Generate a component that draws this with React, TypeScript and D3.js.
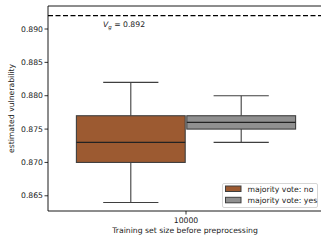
import React from "react";
import * as d3 from "d3";

const categories = ["10000"];
const hues = ["majority vote: no", "majority vote: yes"];
// [whiskerLow, q1, median, q3, whiskerHigh]
const boxStats = [
  [0.864, 0.870, 0.873, 0.877, 0.882],
  [0.873, 0.875, 0.876, 0.877, 0.880],
];
const colors = ["#9c5a31", "#909090"];
const yTicks = [0.865, 0.870, 0.875, 0.880, 0.885, 0.890];
const vg = 0.892;

export default function App() {
  const W = 321, H = 242;
  const left = 48, top = 6, right = 324, bottom = 211;
  const x = d3.scaleLinear().domain([-0.5, 0.5]).range([left, right]);
  const y = d3.scaleLinear().domain([0.86272, 0.89345]).range([bottom, top]);
  const fs = 7.7;
  const font = "DejaVu Sans, sans-serif";
  const edge = "#3f3f3f";
  const boxW = 0.4;
  return (
    <svg width={W} height={H} style={{ position: "absolute", left: 0, top: 0 }} fontFamily={font}>
      <rect x={0} y={0} width={W} height={H} fill="#fff" />
      {boxStats.map((s, i) => {
        const x0 = x(-0.4 + i * boxW);
        const x1 = x(-0.4 + (i + 1) * boxW);
        const inset = 0.8;
        const cx = (x0 + x1) / 2;
        const capHalf = (x1 - x0) / 4;
        return (
          <g key={i}>
            <line x1={cx} x2={cx} y1={y(s[0])} y2={y(s[1])} stroke={edge} strokeWidth={1.1} />
            <line x1={cx} x2={cx} y1={y(s[3])} y2={y(s[4])} stroke={edge} strokeWidth={1.1} />
            <line x1={cx - capHalf} x2={cx + capHalf} y1={y(s[0])} y2={y(s[0])} stroke={edge} strokeWidth={1.1} />
            <line x1={cx - capHalf} x2={cx + capHalf} y1={y(s[4])} y2={y(s[4])} stroke={edge} strokeWidth={1.1} />
            <rect x={x0 + inset} y={y(s[3])} width={x1 - x0 - 2 * inset} height={y(s[1]) - y(s[3])} fill={colors[i]} stroke={edge} strokeWidth={1.1} />
            <line x1={x0 + inset} x2={x1 - inset} y1={y(s[2])} y2={y(s[2])} stroke="#222" strokeWidth={1.1} />
          </g>
        );
      })}
      <line x1={left} x2={W} y1={y(vg)} y2={y(vg)} stroke="#000" strokeWidth={1.4} strokeDasharray="5,2.5" />
      <text x={103} y={27} fontSize={fs} fill="#222">
        <tspan fontStyle="italic">V</tspan>
        <tspan fontSize={fs * 0.7} fontStyle="italic" dy={2}>g</tspan>
        <tspan dy={-2}> = {vg.toFixed(3)}</tspan>
      </text>
      {/* spines */}
      <line x1={left} x2={W} y1={top} y2={top} stroke="#000" strokeWidth={0.9} />
      <line x1={left} x2={W} y1={bottom} y2={bottom} stroke="#000" strokeWidth={0.9} />
      <line x1={left} x2={left} y1={top} y2={bottom} stroke="#000" strokeWidth={0.9} />
      {yTicks.map((t) => (
        <g key={t}>
          <line x1={left - 3.5} x2={left} y1={y(t)} y2={y(t)} stroke="#000" strokeWidth={0.8} />
          <text x={left - 5} y={y(t)} dy="0.35em" textAnchor="end" fontSize={fs} fill="#222">
            {t.toFixed(3)}
          </text>
        </g>
      ))}
      {categories.map((c, i) => (
        <g key={c}>
          <line x1={x(i)} x2={x(i)} y1={bottom} y2={bottom + 3.5} stroke="#000" strokeWidth={0.8} />
          <text x={x(i)} y={bottom + 12} textAnchor="middle" fontSize={fs} fill="#222">{c}</text>
        </g>
      ))}
      <text x={185} y={233} textAnchor="middle" fontSize={fs} fill="#222">Training set size before preprocessing</text>
      <text transform={`translate(14,${(top + bottom) / 2}) rotate(-90)`} textAnchor="middle" fontSize={fs} fill="#222">
        estimated vulnerability
      </text>
      {/* legend */}
      <rect x={222.5} y={183.5} width={95} height={24} fill="#fff" fillOpacity={0.8} stroke="#ccc" strokeWidth={0.8} rx={1.5} />
      {hues.map((h, i) => (
        <g key={h}>
          <rect x={225.5} y={186 + i * 11.3} width={15.5} height={5.5} fill={colors[i]} stroke={edge} strokeWidth={1} />
          <text x={247.5} y={189 + i * 11.3} dy="0.35em" fontSize={fs} fill="#222">{h}</text>
        </g>
      ))}
    </svg>
  );
}
